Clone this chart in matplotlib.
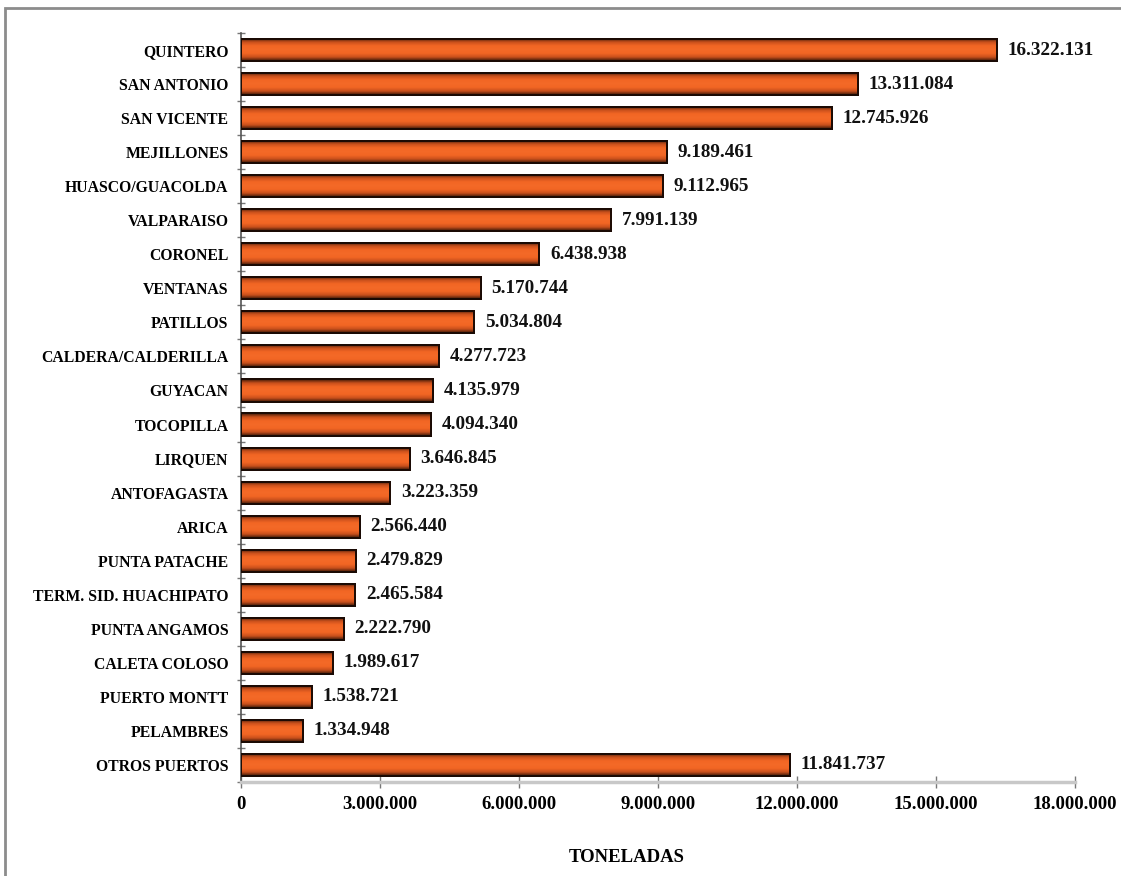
import numpy as np
import matplotlib.pyplot as plt
from matplotlib.colors import LinearSegmentedColormap
from matplotlib.patches import Rectangle

ports = ['QUINTERO', 'SAN ANTONIO', 'SAN VICENTE', 'MEJILLONES', 'HUASCO/GUACOLDA',
         'VALPARAISO', 'CORONEL', 'VENTANAS', 'PATILLOS', 'CALDERA/CALDERILLA',
         'GUYACAN', 'TOCOPILLA', 'LIRQUEN', 'ANTOFAGASTA', 'ARICA', 'PUNTA PATACHE',
         'TERM. SID. HUACHIPATO', 'PUNTA ANGAMOS', 'CALETA COLOSO', 'PUERTO MONTT',
         'PELAMBRES', 'OTROS PUERTOS']
tons = [16322131, 13311084, 12745926, 9189461, 9112965, 7991139, 6438938, 5170744,
        5034804, 4277723, 4135979, 4094340, 3646845, 3223359, 2566440, 2479829,
        2465584, 2222790, 1989617, 1538721, 1334948, 11841737]
xticks = [0, 3000000, 6000000, 9000000, 12000000, 15000000, 18000000]

def fmt(v):
    return f"{v:,}".replace(',', '.')

plt.rcParams['font.family'] = ['Liberation Serif', 'DejaVu Serif']
plt.rcParams['font.weight'] = 'bold'

fig = plt.figure(figsize=(11.21, 8.76), dpi=100)
ax = fig.add_axes([241/1121, 1 - 782/876, (1075 - 241)/1121, (782 - 33)/876])

# outer grey frame of the original graphic
fig.patches.append(Rectangle((5/1121, -0.1), 1.2, 1 - 8/876 + 0.1, transform=fig.transFigure,
                             fill=False, edgecolor='#8c8c8c', linewidth=2, zorder=0))

ypos = np.arange(len(ports))
bars = ax.barh(ypos, tons, height=0.65, color='#f26522', edgecolor='#1a0a04',
               linewidth=1.4, zorder=3)

# slight shading toward the top and bottom edge of each bar
cmap = LinearSegmentedColormap.from_list('bar', ['#3a1808', '#c9501c', '#f26624', '#f46a28',
                                                 '#f26624', '#c9501c', '#3a1808'])
grad = np.linspace(0, 1, 64).reshape(-1, 1)
for b in bars:
    x0, y0 = b.get_x(), b.get_y()
    w, h = b.get_width(), b.get_height()
    im = ax.imshow(grad, cmap=cmap, aspect='auto', extent=(x0, x0 + w, y0 + h, y0),
                   origin='upper', zorder=3.5, interpolation='bilinear')
    im.set_clip_path(b)
    edge = Rectangle((x0, y0), w, h, fill=False, edgecolor='#1a0a04', linewidth=1.4, zorder=4)
    ax.add_patch(edge)

for y, v in zip(ypos, tons):
    ax.text(v + 230000, y, fmt(v), va='center', ha='left', fontsize=13.8,
            fontweight='bold', color='#111111')

ax.set_ylim(len(ports) - 0.5, -0.5)
ax.set_xlim(0, 18000000)
ax.set_yticks(ypos)
ax.set_yticklabels(ports, fontsize=11.3, fontweight='bold')
ax.tick_params(axis='y', length=0, pad=9)
ax.set_yticks(np.arange(len(ports) + 1) - 0.5, minor=True)
ax.tick_params(axis='y', which='minor', length=6, direction='inout', color='#777777', width=1)

ax.set_xticks(xticks)
ax.set_xticklabels([fmt(t) for t in xticks], fontsize=13.5, fontweight='bold')
ax.tick_params(axis='x', length=8, direction='inout', color='#777777', width=1, pad=6)

for s in ['top', 'right']:
    ax.spines[s].set_visible(False)
ax.spines['left'].set_color('#555555')
ax.spines['left'].set_linewidth(1.2)
ax.spines['bottom'].set_color('#c8c8c8')
ax.spines['bottom'].set_linewidth(2.5)

fig.text(627/1121, 1 - 858/876, 'TONELADAS', ha='center', va='center',
         fontsize=13.5, fontweight='bold')

fig.savefig('out.png', dpi=100)
